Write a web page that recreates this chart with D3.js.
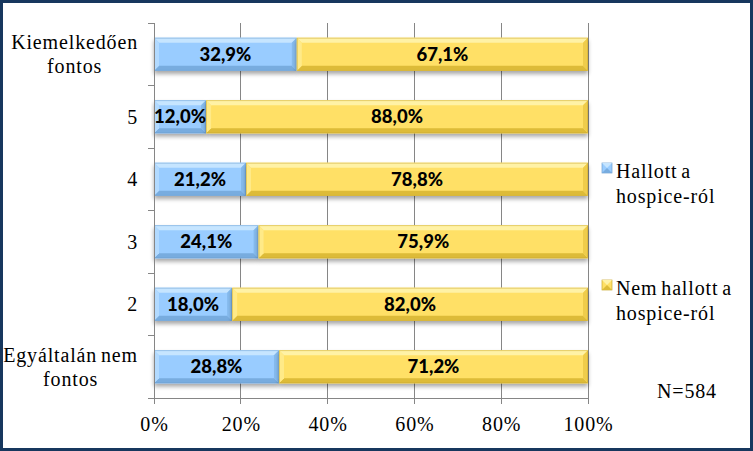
<!DOCTYPE html>
<html><head><meta charset="utf-8">
<script src="https://cdn.jsdelivr.net/npm/d3@7"></script>
<style>body{margin:0;background:#fff}svg{display:block}
.serif{font-family:"Liberation Serif","DejaVu Serif","Times New Roman",serif;font-size:20px;letter-spacing:0.85px;word-spacing:-2px;}
</style>
</head><body>
<svg id="c" width="753" height="451"></svg>
<script>
const categories = ["Kiemelkedően\nfontos","5","4","3","2","Egyáltalán nem\nfontos"];
const hallott = [32.9,12.0,21.2,24.1,18.0,28.8];
const nemHallott = [67.1,88.0,78.8,75.9,82.0,71.2];
const seriesNames = ["Hallott a\nhospice-ról","Nem hallott a\nhospice-ról"];
const xTicks = [0,20,40,60,80,100];
const note = "N=584";

const svg = d3.select("#c");
const W=753,H=451;
svg.append("rect").attr("x",1.5).attr("y",1.5).attr("width",W-3).attr("height",H-3)
  .attr("fill","#fff").attr("stroke","#17375E").attr("stroke-width",3);

const x0=154,x1=588,y0=23,y1=398;
const x=d3.scaleLinear().domain([0,100]).range([x0,x1]);
const y=d3.scaleBand().domain(categories).range([y0,y1]).paddingInner(0.47).paddingOuter(0.235);
const yb=d3.scaleBand().domain(categories).range([y0,y1]);

const defs=svg.append("defs");
const f=defs.append("filter").attr("id","sh").attr("x","-5%").attr("y","-20%").attr("width","110%").attr("height","160%");
f.append("feGaussianBlur").attr("in","SourceAlpha").attr("stdDeviation",2.2);
f.append("feOffset").attr("dx",0).attr("dy",3).attr("result","b");
f.append("feComponentTransfer").append("feFuncA").attr("type","linear").attr("slope",0.35);
const m=f.append("feMerge");m.append("feMergeNode");m.append("feMergeNode").attr("in","SourceGraphic");

// gridlines
svg.append("g").selectAll("line").data(xTicks.slice(1)).join("line")
  .attr("x1",d=>x(d)).attr("x2",d=>x(d)).attr("y1",y0).attr("y2",y1)
  .attr("stroke","#868686").attr("stroke-width",1).attr("shape-rendering","crispEdges");

// bars
const colors=[{base:"#99CCFF",top:"#C6E5FF",bot:"#78ACDF",side:"#B2DAFF",side2:"#86BBEE",edge:"#6E9FCF"},
              {base:"#FFE066",top:"#FFF2A6",bot:"#DDBB38",side:"#FFEA88",side2:"#EFCC4C",edge:"#C9A830"}];
const stacks=categories.map((c,i)=>[{c,s:0,v:hallott[i],k:0},{c,s:hallott[i],v:nemHallott[i],k:1}]);
const bevel=5;
const pts=(a)=>a.map(p=>p.join(",")).join(" ");
stacks.forEach(st=>{
  st.forEach(d=>{
    const bx=x(d.s), bw=x(d.s+d.v)-x(d.s), by=y(d.c), bh=y.bandwidth();
    const col=colors[d.k], b=bevel;
    const bg=svg.append("g").attr("filter","url(#sh)");
    bg.append("rect").attr("x",bx).attr("y",by).attr("width",bw).attr("height",bh).attr("fill",col.base);
    bg.append("polygon").attr("points",pts([[bx,by],[bx+bw,by],[bx+bw-b,by+b],[bx+b,by+b]])).attr("fill",col.top);
    bg.append("polygon").attr("points",pts([[bx,by+bh],[bx+bw,by+bh],[bx+bw-b,by+bh-b],[bx+b,by+bh-b]])).attr("fill",col.bot);
    bg.append("polygon").attr("points",pts([[bx,by],[bx+b,by+b],[bx+b,by+bh-b],[bx,by+bh]])).attr("fill",col.side);
    bg.append("polygon").attr("points",pts([[bx+bw,by],[bx+bw-b,by+b],[bx+bw-b,by+bh-b],[bx+bw,by+bh]])).attr("fill",col.side2);
    bg.append("rect").attr("x",bx+0.5).attr("y",by+0.5).attr("width",bw-1).attr("height",bh-1).attr("fill","none").attr("stroke",col.edge).attr("stroke-width",0.8).attr("opacity",0.6);
  });
});
stacks.forEach(st=>{
  st.forEach(d=>{
    const bx=x(d.s), bw=x(d.s+d.v)-x(d.s), by=y(d.c), bh=y.bandwidth();
    svg.append("text").attr("x",bx+bw/2).attr("y",by+bh/2+6.5).attr("text-anchor","middle")
      .attr("font-family","Lato, 'Open Sans', sans-serif").attr("font-weight","900").attr("font-size",18.5)
      .attr("fill","#000").text(d.v.toFixed(1).replace(".",",")+"%");
  });
});

// axes
svg.append("line").attr("x1",x0).attr("x2",x0).attr("y1",y0).attr("y2",y1+0.5).attr("stroke","#868686").attr("shape-rendering","crispEdges");
svg.append("line").attr("x1",x0).attr("x2",x1).attr("y1",y1).attr("y2",y1).attr("stroke","#868686").attr("shape-rendering","crispEdges");
const bounds=categories.map(c=>yb(c)).concat([y1]);
svg.append("g").selectAll("line").data(bounds).join("line").attr("x1",x0-6).attr("x2",x0).attr("y1",d=>d).attr("y2",d=>d)
  .attr("stroke","#868686").attr("shape-rendering","crispEdges");
svg.append("g").selectAll("line").data(xTicks).join("line").attr("x1",d=>x(d)).attr("x2",d=>x(d)).attr("y1",y1).attr("y2",y1+6)
  .attr("stroke","#868686").attr("shape-rendering","crispEdges");

svg.append("g").selectAll("text").data(xTicks).join("text").attr("class","serif").attr("x",d=>x(d)+0.5).attr("y",431).attr("text-anchor","middle")
  .attr("fill","#000").text(d=>d+"%");

// category labels
categories.forEach(c=>{
  const lines=c.split("\n");
  const t=svg.append("text").attr("class","serif").attr("fill","#000").attr("text-anchor","middle");
  const cy=yb(c)+yb.bandwidth()/2;
  const lh=24;
  lines.forEach((l,i)=>t.append("tspan").attr("x",0).attr("y",cy+7-(lines.length-1)*lh/2+i*lh).text(l));
  let w=0; t.selectAll("tspan").each(function(){w=Math.max(w,this.getComputedTextLength());});
  t.selectAll("tspan").attr("x",138-w/2);
});

// legend
const leg=[{k:0,y:168},{k:1,y:285}];
leg.forEach(l=>{
  const col=colors[l.k];
  const sx=602, s=10, sy=l.y-5;
  svg.append("rect").attr("x",sx).attr("y",sy).attr("width",s).attr("height",s).attr("fill",col.base).attr("stroke",col.edge).attr("stroke-width",0.7);
  svg.append("polygon").attr("points",`${sx},${sy} ${sx+s},${sy} ${sx+s/2},${sy+s/2}`).attr("fill",col.top);
  svg.append("polygon").attr("points",`${sx},${sy+s} ${sx+s},${sy+s} ${sx+s/2},${sy+s/2}`).attr("fill",col.bot);
  const t=svg.append("text").attr("class","serif").attr("fill","#000");
  seriesNames[l.k].split("\n").forEach((line,i)=>t.append("tspan").attr("x",616).attr("y",l.y+10+i*25).text(line));
});

svg.append("text").attr("class","serif").attr("x",657).attr("y",398).attr("fill","#000").text(note);
</script>
</body></html>
